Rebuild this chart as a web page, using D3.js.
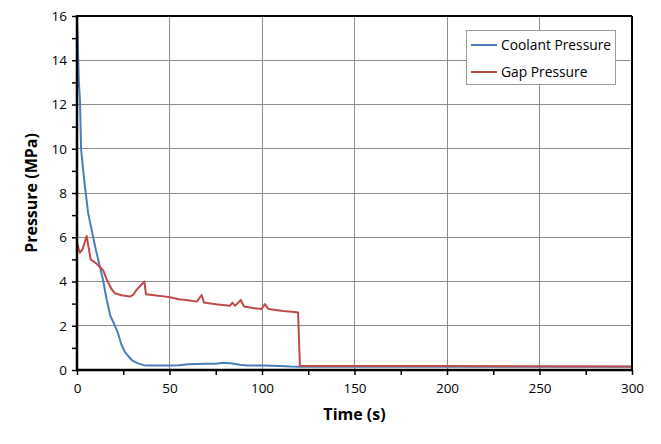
<!DOCTYPE html>
<html><head><meta charset="utf-8">
<script src="https://cdn.jsdelivr.net/npm/d3@7"></script>
<style>body{margin:0;background:#fff}svg{display:block}</style>
</head><body>
<svg id="c" width="661" height="444"></svg>
<script>
const coolantT = [0,0.5,1,1.6,2.2,3,4,5,6,8,10,12,14,16,18,20,22,24,26,28,30,33,36,40,50,55,60,65,70,75,79,83,88,92,100,110,115,120,200,300];
const coolantP = [16,14.5,13,12.2,10,9.3,8.5,7.8,7.1,6.3,5.5,4.8,4.1,3.2,2.45,2.1,1.7,1.15,0.8,0.6,0.42,0.3,0.22,0.2,0.2,0.22,0.26,0.27,0.28,0.28,0.33,0.3,0.24,0.2,0.2,0.18,0.16,0.15,0.15,0.15];
const gapT = [0,1.5,3,5.2,7.4,10.6,14.2,16,18.7,20.5,24,28.6,30.4,32.2,36.4,37.3,45,50.3,55,60,64.7,67.4,68.6,75,82.7,84,85.5,88.5,90.3,95,99.8,101.6,103.4,111.5,118.7,119.5,120.5,200,300];
const gapP = [5.75,5.3,5.45,6.06,5.0,4.8,4.5,4.1,3.65,3.47,3.38,3.32,3.4,3.62,4.0,3.42,3.35,3.29,3.2,3.15,3.09,3.39,3.05,2.97,2.9,3.05,2.9,3.17,2.87,2.8,2.76,2.98,2.76,2.67,2.61,2.6,0.18,0.18,0.16];
const xTicks = [0,50,100,150,200,250,300];
const yTicks = [0,2,4,6,8,10,12,14,16];
const seriesNames = ["Coolant Pressure","Gap Pressure"];
const colors = ["#4a7ebb","#be4b48"];

const svg = d3.select("#c");
const L=77,R=632,T=16,B=370;
const x = d3.scaleLinear().domain([0,300]).range([L,R]);
const y = d3.scaleLinear().domain([0,16]).range([B,T]);
const font = "'Open Sans', sans-serif";

// grid
svg.append("g").selectAll("line").data(xTicks.slice(1)).join("line")
  .attr("x1",d=>x(d)).attr("x2",d=>x(d)).attr("y1",T).attr("y2",B)
  .attr("stroke","#8c8c8c").attr("stroke-width",1).attr("shape-rendering","crispEdges");
svg.append("g").selectAll("line").data(yTicks.slice(1)).join("line")
  .attr("x1",L).attr("x2",R).attr("y1",d=>y(d)).attr("y2",d=>y(d))
  .attr("stroke","#8c8c8c").attr("stroke-width",1).attr("shape-rendering","crispEdges");

// axes
const xAxis = d3.axisBottom(x).tickValues(d3.range(0,301,25)).tickSize(5).tickFormat(d=>xTicks.includes(d)?d:"");
const gx = svg.append("g").attr("transform",`translate(0,${B})`).call(xAxis);
const yAxis = d3.axisLeft(y).tickValues(d3.range(0,17,1)).tickSize(5).tickFormat(d=>yTicks.includes(d)?d:"");
const gy = svg.append("g").attr("transform",`translate(${L},0)`).call(yAxis);
[gx,gy].forEach(g=>{
  g.select(".domain").remove();
  g.selectAll("line").attr("stroke","#000").attr("stroke-width",1.5);
  g.selectAll("text").attr("font-family",font).attr("font-size",13.5).attr("fill","#000");
});
gx.selectAll("text").attr("dy","1.1em");
gy.selectAll("text").attr("dx","-2");

// lines
const line = d3.line().x(d=>x(d[0])).y(d=>y(d[1]));
const series = [d3.zip(coolantT,coolantP), d3.zip(gapT,gapP)];
series.forEach((s,i)=>{
  svg.append("path").datum(s).attr("d",line).attr("fill","none")
    .attr("stroke",colors[i]).attr("stroke-width",2).attr("stroke-linejoin","round");
});

// frame
svg.append("line").attr("x1",L).attr("x2",R).attr("y1",T).attr("y2",T).attr("stroke","#000").attr("stroke-width",2);
svg.append("line").attr("x1",R).attr("x2",R).attr("y1",T).attr("y2",B).attr("stroke","#000").attr("stroke-width",2);
svg.append("line").attr("x1",L).attr("x2",L).attr("y1",T-1).attr("y2",B+1).attr("stroke","#000").attr("stroke-width",2.5);
svg.append("line").attr("x1",L-1).attr("x2",R+1).attr("y1",B).attr("y2",B).attr("stroke","#000").attr("stroke-width",2.5);

// legend
const lg = svg.append("g");
lg.append("rect").attr("x",466.5).attr("y",30.5).attr("width",149).attr("height",54)
  .attr("fill","#fff").attr("stroke","#9a9a9a").attr("stroke-width",1);
seriesNames.forEach((n,i)=>{
  const yy = 45 + i*27;
  lg.append("line").attr("x1",471).attr("x2",497).attr("y1",yy).attr("y2",yy).attr("stroke",colors[i]).attr("stroke-width",2);
  lg.append("text").attr("x",501).attr("y",yy).attr("dy","0.35em").attr("font-family",font).attr("font-size",13.8).attr("fill","#000").text(n);
});

// titles
svg.append("text").attr("x",(L+R)/2).attr("y",420).attr("text-anchor","middle")
  .attr("font-family",font).attr("font-weight","bold").attr("font-size",16).text("Time (s)");
svg.append("text").attr("transform",`translate(37,${(T+B)/2}) rotate(-90)`).attr("text-anchor","middle")
  .attr("font-family",font).attr("font-weight","bold").attr("font-size",16).text("Pressure (MPa)");
</script>
</body></html>
